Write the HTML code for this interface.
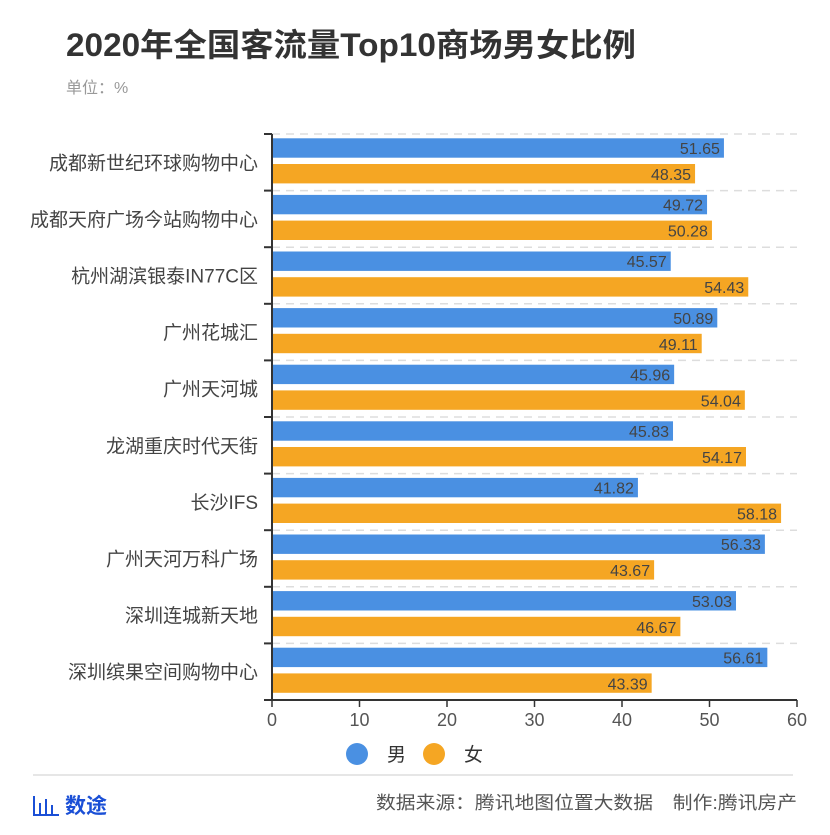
<!DOCTYPE html>
<html><head><meta charset="utf-8">
<style>
body{margin:0;background:#fff;width:830px;height:830px;overflow:hidden;font-family:"Liberation Sans","Noto Sans CJK SC",sans-serif;}
</style></head>
<body>
<svg id="chart" width="830" height="830" xmlns="http://www.w3.org/2000/svg" font-family="Liberation Sans, Noto Sans CJK SC, sans-serif">
<text x="66" y="56" font-size="32" font-weight="bold" fill="#333" textLength="570" lengthAdjust="spacingAndGlyphs">2020年全国客流量Top10商场男女比例</text>
<text x="66" y="93" font-size="16" fill="#999">单位：%</text>
<g id="plot"></g>
<g>
<circle cx="357" cy="754" r="11" fill="#4a90e2"/>
<text x="387" y="761" font-size="19" fill="#333">男</text>
<circle cx="434" cy="754" r="11" fill="#f5a623"/>
<text x="464" y="761" font-size="19" fill="#333">女</text>
</g>
<line x1="33" y1="775" x2="793" y2="775" stroke="#e6e6e6" stroke-width="2"/>
<g>
<rect x="33" y="796" width="2" height="20" fill="#1a4fd6"/>
<rect x="33" y="814" width="26" height="2" fill="#1a4fd6"/>
<rect x="39" y="803" width="2" height="11" fill="#1a4fd6"/>
<rect x="45" y="799" width="2" height="15" fill="#1a4fd6"/>
<rect x="51" y="805" width="2" height="9" fill="#1a4fd6"/>
<text x="65" y="813" font-size="21" font-weight="bold" fill="#1a4fd6">数途</text>
</g>
<text x="797" y="809" font-size="18" fill="#555" text-anchor="end" textLength="421" lengthAdjust="spacingAndGlyphs">数据来源：腾讯地图位置大数据　制作:腾讯房产</text>
</svg>
<script>
const categories=["成都新世纪环球购物中心","成都天府广场今站购物中心","杭州湖滨银泰IN77C区","广州花城汇","广州天河城","龙湖重庆时代天街","长沙IFS","广州天河万科广场","深圳连城新天地","深圳缤果空间购物中心"];
const maleValues=[51.65,49.72,45.57,50.89,45.96,45.83,41.82,56.33,53.03,56.61];
const femaleValues=[48.35,50.28,54.43,49.11,54.04,54.17,58.18,43.67,46.67,43.39];
const xTicks=[0,10,20,30,40,50,60];
const NS="http://www.w3.org/2000/svg";
const X0=272,X1=797,XMAX=60,Y0=134,BAND=56.6;
const xs=v=>X0+(X1-X0)*v/XMAX;
const ys=i=>Y0+BAND*i;
const g=document.getElementById('plot');
function mk(t,a){const e=document.createElementNS(NS,t);for(const k in a)e.setAttribute(k,a[k]);g.appendChild(e);return e;}
categories.forEach((c,i)=>{
  const gl=mk('line',{x1:X0,x2:X1,y1:ys(i),y2:ys(i),stroke:'#ddd','stroke-width':1.5,'stroke-dasharray':'8,6'});
  
  
  const tk=mk('line',{x1:X0-8,x2:X0,y1:ys(i),y2:ys(i),stroke:'#333','stroke-width':2});
  
  
  const lb=mk('text',{x:258,y:ys(i)+BAND/2+7,'font-size':19,fill:'#444','text-anchor':'end'});
  lb.textContent=c;
  
  
  const bm=mk('rect',{x:X0,y:ys(i)+4.3,width:xs(maleValues[i])-X0,height:19.4,fill:'#4a90e2'});
  
  
  const tm=mk('text',{x:xs(maleValues[i])-4,y:ys(i)+20,'font-size':16,fill:'#444','text-anchor':'end'});
  tm.textContent=maleValues[i].toFixed(2);
  
  
  const bf=mk('rect',{x:X0,y:ys(i)+30,width:xs(femaleValues[i])-X0,height:19.4,fill:'#f5a623'});
  
  
  const tf=mk('text',{x:xs(femaleValues[i])-4,y:ys(i)+46,'font-size':16,fill:'#444','text-anchor':'end'});
  tf.textContent=femaleValues[i].toFixed(2);
  
  
});
const ya=mk('line',{x1:X0,x2:X0,y1:Y0,y2:Y0+BAND*categories.length,stroke:'#333','stroke-width':2});


const yb=Y0+BAND*categories.length;
const xa=mk('line',{x1:X0-8,x2:X1,y1:yb,y2:yb,stroke:'#333','stroke-width':2});


xTicks.forEach(t=>{
  const l=mk('line',{x1:xs(t),x2:xs(t),y1:yb,y2:yb+7,stroke:'#333','stroke-width':1.5});
  
  
  const tx=mk('text',{x:xs(t),y:yb+26,'font-size':18,fill:'#555','text-anchor':'middle'});
  tx.textContent=t;
  
  
});
</script>
</body></html>
